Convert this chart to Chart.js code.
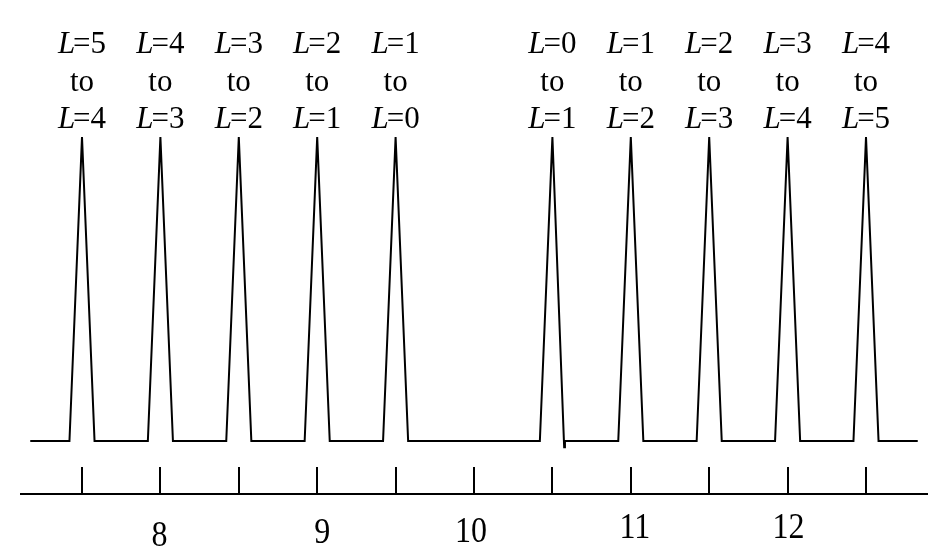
<!DOCTYPE html>
<html>
<head>
<meta charset="utf-8">
<script src="https://cdn.jsdelivr.net/npm/chart.js@4.4.0/dist/chart.umd.min.js"></script>
<style>
  html, body { margin: 0; padding: 0; background: #fff; }
</style>
</head>
<body>
<canvas id="spectrum" width="938" height="557"></canvas>
<script>
// trace of the spectrum (x = position, y = relative intensity)
const traceX = [7.17, 7.42, 7.5, 7.58, 7.92, 8, 8.08, 8.42, 8.5, 8.58, 8.92, 9, 9.08,
  9.42, 9.5, 9.58, 10.42, 10.5, 10.575, 10.58, 10.92, 11, 11.08, 11.42, 11.5, 11.58,
  11.92, 12, 12.08, 12.42, 12.5, 12.58, 12.83];
const traceY = [0, 0, 1, 0, 0, 1, 0, 0, 1, 0, 0, 1, 0,
  0, 1, 0, 0, 1, -0.02, 0, 0, 1, 0, 0, 1, 0,
  0, 1, 0, 0, 1, 0, 0];

// peak labels "L=a to L=b"
const peakX = [7.5, 8, 8.5, 9, 9.5, 10.5, 11, 11.5, 12, 12.5];
const peakFrom = [5, 4, 3, 2, 1, 0, 1, 2, 3, 4];
const peakTo = [4, 3, 2, 1, 0, 1, 2, 3, 4, 5];

// axis
const tickValues = [7.5, 8, 8.5, 9, 9.5, 10, 10.5, 11, 11.5, 12, 12.5];
const axisLabels = [8, 9, 10, 11, 12];
// small hand placement of the axis numbers, in px
const labelShiftX = [-1, 5, -3, 4, 1];
const labelShiftY = [8, 5, 4, 0, 0];

const serif = '"Liberation Serif", "Times New Roman", serif';

const decorPlugin = {
  id: 'decor',
  afterDraw(chart) {
    const ctx = chart.ctx;
    const xs = chart.scales.x;
    const ys = chart.scales.y;
    const bottom = chart.chartArea.bottom;
    ctx.save();
    ctx.strokeStyle = '#000';
    ctx.fillStyle = '#000';

    // tick marks pointing up from the axis line
    ctx.lineWidth = 2;
    tickValues.forEach(v => {
      const px = Math.round(xs.getPixelForValue(v));
      ctx.beginPath();
      ctx.moveTo(px, bottom - 27);
      ctx.lineTo(px, bottom);
      ctx.stroke();
    });

    // axis numbers
    ctx.font = '32px ' + serif;
    ctx.textAlign = 'center';
    ctx.textBaseline = 'alphabetic';
    axisLabels.forEach((v, i) => {
      const px = xs.getPixelForValue(v) + labelShiftX[i];
      ctx.save();
      ctx.translate(px, bottom + 44 + labelShiftY[i]);
      ctx.scale(1, 1.15);
      ctx.fillText(String(v), 0, 0);
      ctx.restore();
    });

    // peak labels, italic L tucked close to the "="
    const top = ys.getPixelForValue(1);
    const drawL = (cx, y, n) => {
      ctx.textAlign = 'left';
      ctx.font = 'italic 31px ' + serif;
      const wL = ctx.measureText('L').width - 2;
      ctx.font = '31px ' + serif;
      const rest = '=' + n;
      const wR = ctx.measureText(rest).width;
      const x0 = cx - (wL + wR) / 2;
      ctx.font = 'italic 31px ' + serif;
      ctx.fillText('L', x0, y);
      ctx.font = '31px ' + serif;
      ctx.fillText(rest, x0 + wL, y);
    };
    peakX.forEach((v, i) => {
      const cx = xs.getPixelForValue(v);
      drawL(cx, top - 84, peakFrom[i]);
      ctx.font = '31px ' + serif;
      ctx.textAlign = 'center';
      ctx.fillText('to', cx, top - 46.5);
      drawL(cx, top - 9, peakTo[i]);
    });
    ctx.restore();
  }
};

new Chart(document.getElementById('spectrum').getContext('2d'), {
  type: 'line',
  data: {
    datasets: [{
      data: traceX.map((x, i) => ({ x: x, y: traceY[i] })),
      borderColor: '#000',
      borderWidth: 2,
      pointRadius: 0,
      tension: 0,
      fill: false
    }]
  },
  options: {
    responsive: false,
    devicePixelRatio: 1,
    animation: false,
    layout: { padding: { left: 21, right: 11, top: 0, bottom: 63 } },
    plugins: { legend: { display: false }, tooltip: { enabled: false } },
    scales: {
      x: {
        type: 'linear',
        min: 7.111,
        max: 12.889,
        grid: { display: false, drawTicks: false },
        border: { display: true, color: '#000', width: 2 },
        ticks: { display: false }
      },
      y: {
        display: false,
        min: -0.174,
        max: 1.451
      }
    }
  },
  plugins: [decorPlugin]
});
</script>
</body>
</html>
